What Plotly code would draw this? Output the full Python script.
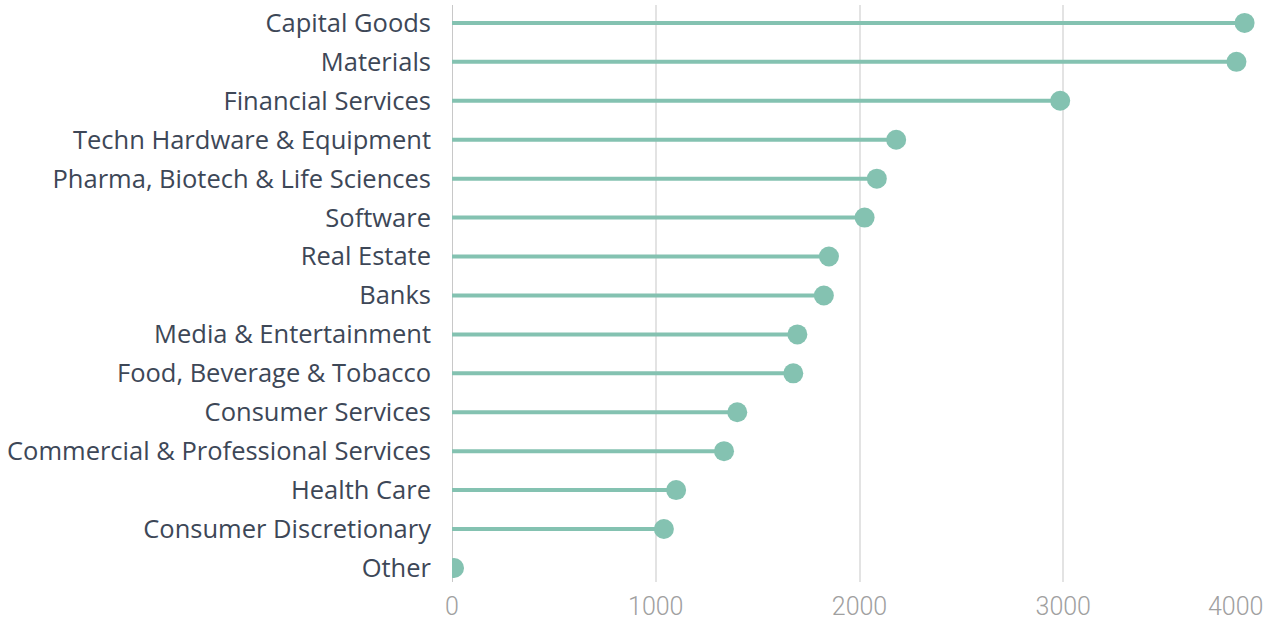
import plotly.graph_objects as go

categories = ["Capital Goods", "Materials", "Financial Services", "Techn Hardware & Equipment",
              "Pharma, Biotech & Life Sciences", "Software", "Real Estate", "Banks",
              "Media & Entertainment", "Food, Beverage & Tobacco", "Consumer Services",
              "Commercial & Professional Services", "Health Care", "Consumer Discretionary", "Other"]
values = [3890, 3850, 2985, 2180, 2085, 2025, 1850, 1825, 1695, 1675, 1400, 1335, 1100, 1040, 10]
tick_vals = [0, 1000, 2000, 3000, 4000]
tick_text = ["0", "1000", "2000", "3000", ""]

color = "#84c2b1"
tick_font = dict(family="Roboto", size=25, color="#a0a0a0", weight=300)
fig = go.Figure()
for c, v in zip(categories, values):
    fig.add_trace(go.Scatter(x=[0, v], y=[c, c], mode="lines",
                             line=dict(color=color, width=4), hoverinfo="skip", showlegend=False))
fig.add_trace(go.Scatter(x=values, y=categories, mode="markers",
                         marker=dict(color=color, size=20), showlegend=False))

fig.add_annotation(x=4000, xref="x", y=0, yref="paper", yshift=-8, xshift=-2,
                   xanchor="right", yanchor="top",
                   text="4000", showarrow=False, font=tick_font)

fig.update_layout(
    width=1280, height=621, plot_bgcolor="white", paper_bgcolor="white",
    margin=dict(l=452, r=13, t=5, b=39),
    xaxis=dict(range=[0, 4000], tickvals=tick_vals, ticktext=tick_text, showgrid=True,
               gridcolor="#e3e3e3", gridwidth=2, zeroline=False, showline=False,
               tickfont=tick_font, ticklen=0, ticks="", automargin=False),
    yaxis=dict(categoryorder="array", categoryarray=categories[::-1], range=[-0.36, 14.46],
               showgrid=False, zeroline=False, showline=False, ticks="", ticklen=0,
               tickfont=dict(family="Open Sans", size=25.5, color="#3d4757"), automargin=False),
)
fig.add_shape(type="line", xref="x", yref="paper", x0=0, x1=0, y0=0, y1=1,
              line=dict(color="#c8c8c8", width=2), layer="below")
fig.update_yaxes(ticklabelstandoff=20)
fig.update_xaxes(ticklabelstandoff=7)
fig.write_html("out.html", config={"displayModeBar": False},
               post_script="document.body.style.margin='0px';")
